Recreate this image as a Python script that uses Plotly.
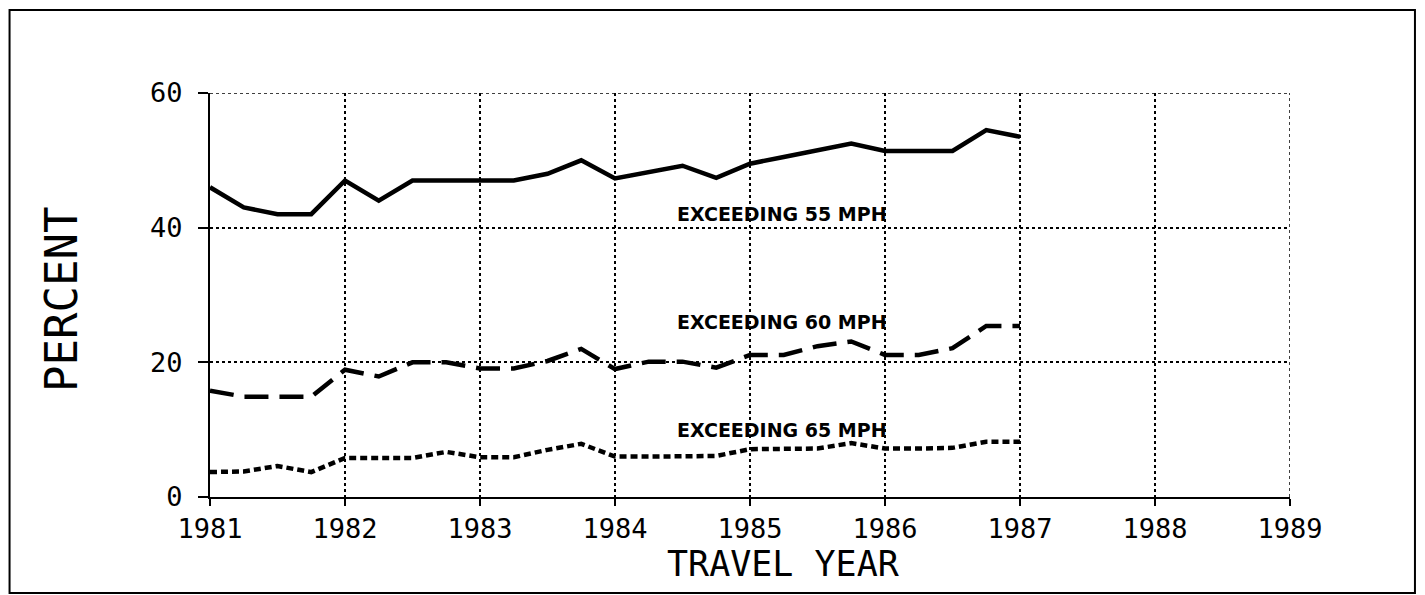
import plotly.graph_objects as go

years = [1981.0, 1981.25, 1981.5, 1981.75, 1982.0, 1982.25, 1982.5, 1982.75,
         1983.0, 1983.25, 1983.5, 1983.75, 1984.0, 1984.25, 1984.5, 1984.75,
         1985.0, 1985.25, 1985.5, 1985.75, 1986.0, 1986.25, 1986.5, 1986.75, 1987.0]
exceed_55 = [46, 43, 42, 42, 47, 44, 47, 47, 47, 47, 48, 50, 47.3, 48.3, 49.2, 47.4,
             49.5, 50.5, 51.5, 52.5, 51.4, 51.4, 51.4, 54.5, 53.5]
exceed_60 = [15.8, 14.9, 14.9, 14.9, 18.9, 17.9, 20, 20, 19.1, 19.1, 20.2, 22, 19, 20.1,
             20.1, 19.2, 21.1, 21.1, 22.4, 23.1, 21.1, 21.1, 22.1, 25.4, 25.4]
exceed_65 = [3.7, 3.8, 4.6, 3.7, 5.8, 5.8, 5.8, 6.7, 5.9, 5.9, 7.0, 7.9, 6.0, 6.0, 6.0,
             6.1, 7.1, 7.1, 7.2, 8.0, 7.2, 7.2, 7.3, 8.2, 8.2]
x_ticks = [1981, 1982, 1983, 1984, 1985, 1986, 1987, 1988, 1989]
y_ticks = [0, 20, 40, 60]
labels = ["EXCEEDING 55 MPH", "EXCEEDING 60 MPH", "EXCEEDING 65 MPH"]
label_x = [1985.24, 1985.24, 1985.24]
label_y = [42.1, 26.0, 10.0]
x_title = "TRAVEL YEAR"
y_title = "PERCENT"

mono = "DejaVu Sans Mono"
fig = go.Figure()
fig.add_trace(go.Scatter(x=years, y=exceed_55, mode="lines",
                         line=dict(color="black", width=4.5), showlegend=False))
fig.add_trace(go.Scatter(x=years, y=exceed_60, mode="lines",
                         line=dict(color="black", width=4.5, dash="24px,11px"), showlegend=False))
fig.add_trace(go.Scatter(x=years, y=exceed_65, mode="lines",
                         line=dict(color="black", width=4.5, dash="7px,4px"), showlegend=False))

for t, xx, yy in zip(labels, label_x, label_y):
    fig.add_annotation(x=xx, y=yy, text="<b>" + t + "</b>", showarrow=False,
                       font=dict(family="DejaVu Sans", size=19, color="black"),
                       xanchor="center", yanchor="middle")

# axis titles
fig.add_annotation(xref="paper", yref="paper", x=0.531, y=-0.166, text=x_title,
                   showarrow=False, xanchor="center", yanchor="middle",
                   font=dict(family=mono, size=35, color="black"))
fig.add_annotation(xref="paper", yref="paper", x=-0.138, y=0.49, text=y_title,
                   showarrow=False, xanchor="center", yanchor="middle", textangle=-90,
                   font=dict(family=mono, size=44, color="black"))

# dotted frame lines on top (60) and right (1989) edges, like the gridlines
fig.add_shape(type="line", x0=x_ticks[0], x1=x_ticks[-1], y0=y_ticks[-1], y1=y_ticks[-1],
              line=dict(color="black", width=1.5, dash="dot"))
fig.add_shape(type="line", x0=x_ticks[-1], x1=x_ticks[-1], y0=y_ticks[0], y1=y_ticks[-1],
              line=dict(color="black", width=1.5, dash="dot"))

# outer border of the figure
fig.add_shape(type="rect", xref="paper", yref="paper",
              x0=-0.1856, x1=1.1157, y0=-0.2376, y1=1.2054,
              line=dict(color="black", width=2))

fig.update_xaxes(range=[1981, 1989], tickmode="array", tickvals=x_ticks,
                 ticktext=[str(v) for v in x_ticks],
                 showgrid=True, gridcolor="black", griddash="dot", gridwidth=1.5,
                 showline=True, linecolor="black", linewidth=2,
                 ticks="outside", ticklen=7, tickwidth=2, tickcolor="black",
                 zeroline=False,
                 tickfont=dict(family=mono, size=27, color="black"))
fig.update_yaxes(range=[0, 60], tickmode="array", tickvals=y_ticks,
                 showgrid=True, gridcolor="black", griddash="dot", gridwidth=1.5,
                 showline=True, linecolor="black", linewidth=2,
                 ticks="outside", ticklen=10, tickwidth=2, tickcolor="black",
                 ticklabelstandoff=10,
                 zeroline=False,
                 tickfont=dict(family=mono, size=27, color="black"))
fig.update_layout(width=1409, height=587, plot_bgcolor="white", paper_bgcolor="white",
                  margin=dict(l=202, r=127, t=85, b=98))
fig.write_html("out.html")
